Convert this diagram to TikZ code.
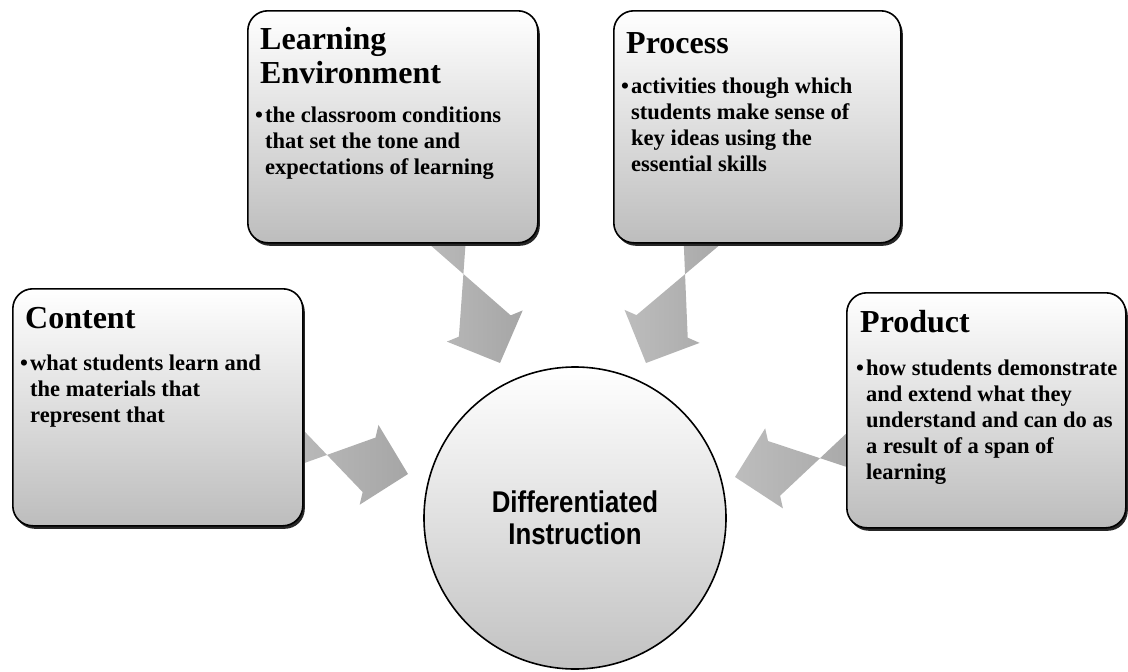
\documentclass[tikz,border=0pt]{standalone}
\usepackage{fontspec}
\usepackage{graphicx}
\setmainfont{Liberation Serif}
\newfontfamily\dsans{Liberation Sans}
\usetikzlibrary{calc,shadows}
\tikzset{
  infobox/.style={draw=black, line width=1.6pt, rounded corners=20pt,
    top color=white, middle color=gray!18, bottom color=gray!52,
    drop shadow={shadow xshift=2pt, shadow yshift=-3pt, fill=black!85, opacity=1},
    anchor=north west, inner sep=0pt},
  boxtitle/.style={anchor=base west, inner sep=0pt, font=\fontsize{32}{34}\selectfont\bfseries},
  boxline/.style={anchor=base west, inner sep=0pt, font=\fontsize{22.5}{26}\selectfont\bfseries},
  bigarrow/.style={left color=gray!52, right color=gray!70, draw=none},
  hub/.style={circle, draw=black, line width=1.6pt, minimum size=302pt,
    top color=white, middle color=gray!14, bottom color=gray!48, align=center,
    font=\dsans\bfseries\fontsize{30}{34}\selectfont}
}
\newcommand{\fatarrow}[3]{% start, tip, name
  \path[bigarrow]
    ($(#1)!28pt!90:(#2)$) coordinate (#3a)
    -- ($($(#2)!40pt!(#1)$)!28pt!-90:(#2)$) coordinate (#3b)
    -- ($($(#2)!40pt!(#1)$)!41pt!-90:(#2)$) coordinate (#3c)
    -- (#2)
    -- ($($(#2)!40pt!(#1)$)!41pt!90:(#2)$) coordinate (#3d)
    -- ($($(#2)!40pt!(#1)$)!28pt!90:(#2)$) coordinate (#3e)
    -- ($(#1)!28pt!-90:(#2)$) coordinate (#3f)
    -- cycle;}
\begin{document}
\begin{tikzpicture}[x=1pt,y=-1pt]
\useasboundingbox (0,0) rectangle (1128,672);

% arrow start and tip points
\coordinate (s1) at (442,222);
\coordinate (t1) at (500,363);
\coordinate (s2) at (708,222);
\coordinate (t2) at (646,363);
\coordinate (s3) at (285,445);
\coordinate (t3) at (408,474);
\coordinate (s4) at (866,448);
\coordinate (t4) at (735,477);

\fatarrow{s1}{t1}{ar1}
\fatarrow{s2}{t2}{ar2}
\fatarrow{s3}{t3}{ar3}
\fatarrow{s4}{t4}{ar4}

% boxes
\node[infobox, minimum width=290pt, minimum height=232pt] (le) at (247,10) {};
\node[infobox, minimum width=287pt, minimum height=232pt] (pr) at (613,10) {};
\node[infobox, minimum width=290pt, minimum height=237pt] (co) at (12,288) {};
\node[infobox, minimum width=279pt, minimum height=235pt] (pd) at (846,292) {};

% Learning Environment
\node[boxtitle] (le1) at (260,49) {Learning};
\node[boxtitle] (le2) at (260,83) {Environment};
\node[boxline] (leb) at (255,122) {\textbullet};
\node[boxline] (lel1) at (265,122) {the classroom conditions};
\node[boxline] (lel2) at (265,148) {that set the tone and};
\node[boxline] (lel3) at (265,174) {expectations of learning};

% Process
\node[boxtitle] (pr1) at (626,53) {Process};
\node[boxline] (prb) at (621,93) {\textbullet};
\node[boxline] (prl1) at (631,93) {activities though which};
\node[boxline] (prl2) at (631,119) {students make sense of};
\node[boxline] (prl3) at (631,145) {key ideas using the};
\node[boxline] (prl4) at (631,171) {essential skills};

% Content
\node[boxtitle] (co1) at (25,328) {Content};
\node[boxline] (cob) at (20,370) {\textbullet};
\node[boxline] (col1) at (30,370) {what students learn and};
\node[boxline] (col2) at (30,396) {the materials that};
\node[boxline] (col3) at (30,422) {represent that};

% Product
\node[boxtitle] (pd1) at (860,332) {Product};
\node[boxline] (pdb) at (856,375) {\textbullet};
\node[boxline] (pdl1) at (866,375) {how students demonstrate};
\node[boxline] (pdl2) at (866,401) {and extend what they};
\node[boxline] (pdl3) at (866,427) {understand and can do as};
\node[boxline] (pdl4) at (866,453) {a result of a span of};
\node[boxline] (pdl5) at (866,479) {learning};

% hub
\node[hub] (di) at (575,518) {\scalebox{0.86}[1]{Differentiated}\\[-2pt]\scalebox{0.86}[1]{Instruction}};
\end{tikzpicture}
\end{document}
